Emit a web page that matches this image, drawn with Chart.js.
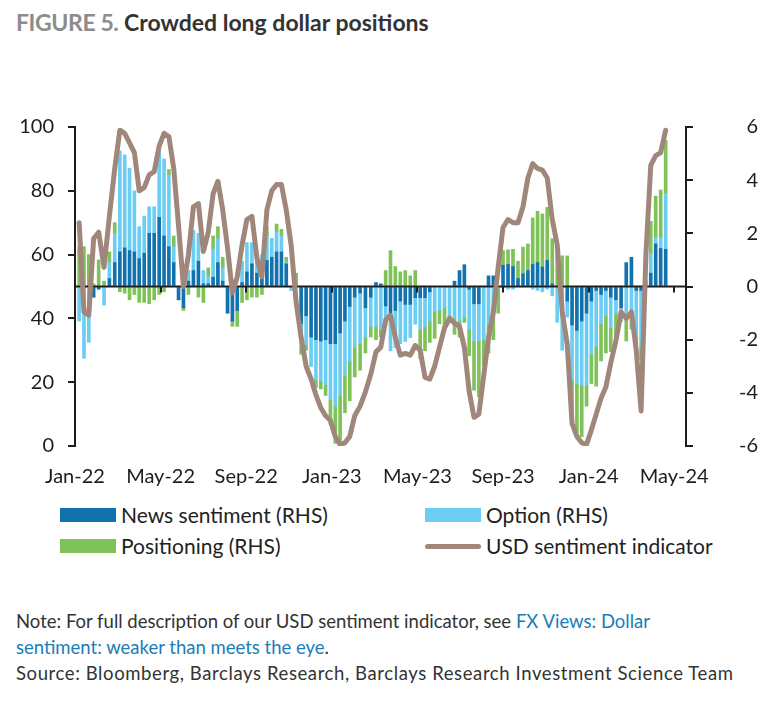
<!DOCTYPE html>
<html lang="en">
<head>
<meta charset="UTF-8">
<title>Crowded long dollar positions</title>
<script src="https://cdn.jsdelivr.net/npm/chart.js"></script>
<style>
    body {
        margin: 0;
        width: 758px;
        height: 702px;
        background: #fff;
        font-family: 'Lato', sans-serif;
        color: #222;
        position: relative;
        overflow: hidden;
    }
    #title {
        position: absolute;
        left: 16px;
        top: 8px;
        font-size: 23px;
        font-weight: bold;
        color: #333;
        white-space: nowrap;
    }
    #title .fig { color: #8c8c8c; letter-spacing: -0.4px; }
    #chartBox {
        position: absolute;
        left: 0;
        top: 100px;
        width: 758px;
        height: 400px;
    }
    .item {
        position: absolute;
        font-size: 21px;
        line-height: 24px;
        white-space: nowrap;
        display: flex;
        align-items: center;
    }
    .box {
        display: inline-block;
        width: 56px;
        height: 14px;
        margin-right: 5px;
    }
    .stroke {
        display: inline-block;
        width: 56px;
        height: 5px;
        border-radius: 3px;
        margin-right: 5px;
    }
    #notes {
        position: absolute;
        left: 16px;
        top: 608px;
        font-size: 18.5px;
        line-height: 26px;
        color: #333;
        width: 740px;
        white-space: nowrap;
    }
    #notes .link { color: #1a7db8; }
    #notes .src { letter-spacing: 0.6px; }
</style>
</head>
<body>
<div id="title"><span class="fig">FIGURE 5.</span> Crowded long dollar positions</div>
<div id="chartBox"><canvas id="chart" width="758" height="400"></canvas></div>

<div class="item" style="left:60px; top:503px;"><span class="box" style="background:#1272ae"></span>News sentiment (RHS)</div>
<div class="item" style="left:425px; top:503px;"><span class="box" style="background:#6ccdf2"></span>Option (RHS)</div>
<div class="item" style="left:60px; top:534px;"><span class="box" style="background:#80c25a"></span>Positioning (RHS)</div>
<div class="item" style="left:425px; top:534px;"><span class="stroke" style="background:#a1877b"></span>USD sentiment indicator</div>

<div id="notes">
    Note: For full description of our USD sentiment indicator, see <span class="link">FX Views: Dollar<br>sentiment: weaker than meets the eye</span>.<br>
    <span class="src">Source: Bloomberg, Barclays Research, Barclays Research Investment Science Team</span>
</div>

<script>
    // weekly observations, first week ending 7 Jan 2022
    const firstWeek = '2022-01-07';
    const tickLabels = ['Jan-22', 'May-22', 'Sep-22', 'Jan-23', 'May-23', 'Sep-23', 'Jan-24', 'May-24'];

    // RHS components
    const newsSentiment = [
        0, 0, 0, -0.4, -0.1, 0, 0.3, 0.9, 1.3, 1.45,
        1.35, 1.3, 1.05, 1.25, 2.0, 2.0, 2.6, 1.9, 1.5, 0.9,
        -0.5, -0.8, 0.2, 0.6, 0.95, 0.1, 0.1, 0.35, 0.9, 0.2,
        -1.0, -1.3, -0.9, 0.15, 0.55, 0.85, 0.5, 0.7, 0.98, 1.1,
        1.3, 1.3, 0.85, 0, 0, -1.4, -1.1, -1.9, -2.0, -2.05,
        -2.0, -2.15, -2.15, -1.75, -1.3, -0.75, -0.4, -0.25, -0.8, -0.4,
        0.15, 0.1, -0.73, -1.04, -0.9, -0.55, -0.67, -0.67, -0.42, -0.42,
        -0.42, -0.2, 0, 0, 0, 0, 0.2, 0.6, 0.82,
        -0.1, -0.65, -0.65, 0, 0.4, 0.4, 0, 0.8, 0.83, 0.75,
        0.3, 0.48, 0.6, 0.83, 0.9, 0.73, 0.98, 0.1, 0, 0,
        -0.55, -1.45, -1.65, -1.3, -1.0, -0.55, -0.15, -0.3, -0.15, -0.4,
        -0.5, -0.8, 0.9, 1.1, -0.15, -0.15, 0, 0.5, 1.6, 1.43, 1.4
    ];
    const option = [
        -1.3, -2.7, -2.1, 0, 0, -0.7, 0.6, 1.1, 3.8, 3.5,
        3.1, 2.3, 1.2, 1.4, 1.0, 1.0, 2.5, 2.9, 2.7, 0.6,
        0, 0, 0.4, 1.5, 1.05, 0.5, 0.3, 1.05, 0.9, 0.5,
        0, 0, 0, 0.8, 1.1, 0.8, 0.6, 0.5, 0.92, 0.7,
        0.75, 0.6, 0.05, -0.15, 0, -0.9, -1.1, -1.1, -1.5, -1.5,
        -1.7, -2.1, -2.35, -2.35, -2.05, -2.05, -1.9, -1.9, -1.1, -1.1,
        -1.5, -1.6, -0.72, -1.38, -1.4, -1.6, -1.4, -1.25, -1.0, -1.2,
        -1.1, -1.1, -0.95, -0.9, -0.8, -1.1, -1.2, -1.3, -1.15,
        -1.5, -1.4, -1.4, -2.0, -1.4, -0.9, -0.1, -0.05, -0.1, -0.1,
        0, 0, 0, -0.1, -0.15, -0.2, -0.1, -0.35, -1.35, -2.4,
        -0.6, -2.05, -2.0, -2.4, -2.7, -2.0, -2.1, -1.1, -0.95, -1.15,
        -0.5, -0.45, -1.15, -1.3, -1.75, -2.1, 0.2, 0.75, 0.25, 0.4, 2.1
    ];
    const positioning = [
        1.5, 1.5, 1.2, 0.1, 1.0, 0.2, 0.4, 0.4, -0.2, -0.25,
        -0.5, -0.3, -0.6, -0.6, -0.65, -0.5, -0.3, -0.2, 0.2, 0.4,
        0, -0.1, -0.3, 0, -0.4, -0.6, 0.3, 0.5, 0.45, 0.4,
        0, -0.2, -0.6, -0.6, -0.5, -0.4, -0.4, -0.3, 0.35, 0,
        0.3, 0.25, 0.2, 0, 0.5, -0.25, -0.2, 0, -0.3, -0.3,
        -0.4, -0.95, -1.4, -1.7, -1.4, -1.5, -1.1, -1.0, -0.6, -0.4,
        -0.5, -0.3, 0.6, 1.35, 0.75, 0.55, 0.6, 0.4, 0.6, -1.1,
        -0.9, -0.8, -1.0, -0.5, -0.8, -0.2, -0.6, -0.6, -0.2,
        -1.0, -1.85, -2.1, -1.0, -1.1, -1.1, -0.9, 0.55, 0.55, 0.65,
        0.65, 1.0, 1.0, 1.75, 1.93, 2.0, 2.0, 1.7, 1.2, 1.15,
        1.15, -1.15, -1.85, -1.95, -0.8, -1.1, -1.5, -1.4, -1.4, -0.9,
        -0.9, -0.05, -0.9, -0.3, -0.3, -0.5, 0, 1.2, 1.55, 1.8, 2.0
    ];
    // LHS indicator
    const usdSentiment = [
        70, 42, 41, 65, 67, 56, 72, 87, 99, 98,
        95, 92, 80, 81, 85, 86, 94, 98, 97, 87,
        69, 50, 60, 75, 76, 61, 67, 79, 83, 74,
        62, 48, 53, 63, 71, 72, 59, 53, 74, 80,
        82, 82, 74, 63, 45, 34, 25, 21, 16, 12,
        9.5, 8, 3, 0.5, 1, 3, 9.5, 12.5, 17, 22.5,
        29.5, 31, 39.5, 41, 34, 28.5, 29, 28.5, 31.5, 30,
        21.5, 21, 25, 31, 37, 40, 38.5, 37.5, 31,
        17, 9, 10, 22, 34, 42, 56, 68.5, 71, 70,
        70, 75, 84, 88.5, 87, 86.5, 84, 71, 63, 42,
        32, 7, 3, 1, 0.5, 5, 10, 15, 18.5, 26,
        33, 42, 40, 42, 30, 11, 60, 88, 91, 92, 99
    ];

    // month position of each week (0 = start of Jan-22)
    const start = new Date(firstWeek + 'T00:00:00Z');
    const weekPos = usdSentiment.map((_, i) => {
        const d = new Date(start.getTime() + i * 7 * 86400000);
        const y = d.getUTCFullYear(), m = d.getUTCMonth();
        const dim = new Date(Date.UTC(y, m + 1, 0)).getUTCDate();
        return (y - 2022) * 12 + m + (d.getUTCDate() - 1) / dim;
    });
    const pts = arr => arr.map((v, i) => ({ x: weekPos[i], y: v }));

    const ink = '#1d1d1d';

    const zeroLine = {
        id: 'zeroLine',
        beforeDatasetDraw(chart, args) {
            if (args.meta.type !== 'line') return;
            const ctx = chart.ctx, area = chart.chartArea;
            const y0 = chart.scales.y2.getPixelForValue(0);
            ctx.save();
            ctx.strokeStyle = ink;
            ctx.lineWidth = 2;
            ctx.beginPath();
            ctx.moveTo(area.left, y0);
            ctx.lineTo(area.right, y0);
            for (let k = 1; k < tickLabels.length; k++) {
                const x = Math.round(chart.scales.x.getPixelForValue(k * 4));
                ctx.moveTo(x, y0);
                ctx.lineTo(x, y0 + 6);
            }
            ctx.stroke();
            ctx.restore();
        }
    };

    const tickFont = { family: 'Lato', size: 20 };

    new Chart(document.getElementById('chart').getContext('2d'), {
        type: 'bar',
        data: {
            datasets: [
                { type: 'line', label: 'USD sentiment indicator', data: pts(usdSentiment), yAxisID: 'y',
                  borderColor: '#a1877b', borderWidth: 5, pointRadius: 0, tension: 0,
                  borderJoinStyle: 'round', borderCapStyle: 'round', order: 0 },
                { label: 'News sentiment (RHS)', data: pts(newsSentiment), yAxisID: 'y2',
                  backgroundColor: '#1272ae', barThickness: 3, order: 1 },
                { label: 'Option (RHS)', data: pts(option), yAxisID: 'y2',
                  backgroundColor: '#6ccdf2', barThickness: 3, order: 1 },
                { label: 'Positioning (RHS)', data: pts(positioning), yAxisID: 'y2',
                  backgroundColor: '#80c25a', barThickness: 3, order: 1 }
            ]
        },
        options: {
            responsive: false,
            animation: false,
            layout: { padding: { top: 27, left: 0, right: 0, bottom: 0 } },
            plugins: { legend: { display: false }, tooltip: { enabled: false } },
            scales: {
                x: {
                    type: 'linear',
                    min: 0,
                    max: 28.55,
                    offset: false,
                    stacked: true,
                    grid: { display: false, drawTicks: false },
                    border: { display: false },
                    ticks: {
                        stepSize: 4,
                        includeBounds: false,
                        autoSkip: false,
                        maxRotation: 0,
                        padding: 19,
                        color: ink,
                        font: tickFont,
                        callback: v => (v % 4 === 0 ? tickLabels[v / 4] : '')
                    },
                    afterFit: s => { s.height = 54; }
                },
                y: {
                    position: 'left',
                    min: 0,
                    max: 100,
                    grid: { drawOnChartArea: false, drawTicks: true, tickLength: 7, color: ink, lineWidth: 2 },
                    border: { display: true, color: ink, width: 2 },
                    ticks: { stepSize: 20, padding: 14, color: ink, font: tickFont },
                    afterFit: s => { s.width = 75; }
                },
                y2: {
                    position: 'right',
                    min: -6,
                    max: 6,
                    stacked: true,
                    grid: { drawOnChartArea: false, drawTicks: true, tickLength: 7, color: ink, lineWidth: 2 },
                    border: { display: true, color: ink, width: 2 },
                    ticks: { stepSize: 2, padding: 3, color: ink, font: tickFont, crossAlign: 'far' },
                    afterFit: s => { s.width = 72; }
                }
            }
        },
        plugins: [zeroLine]
    });
</script>
</body>
</html>
